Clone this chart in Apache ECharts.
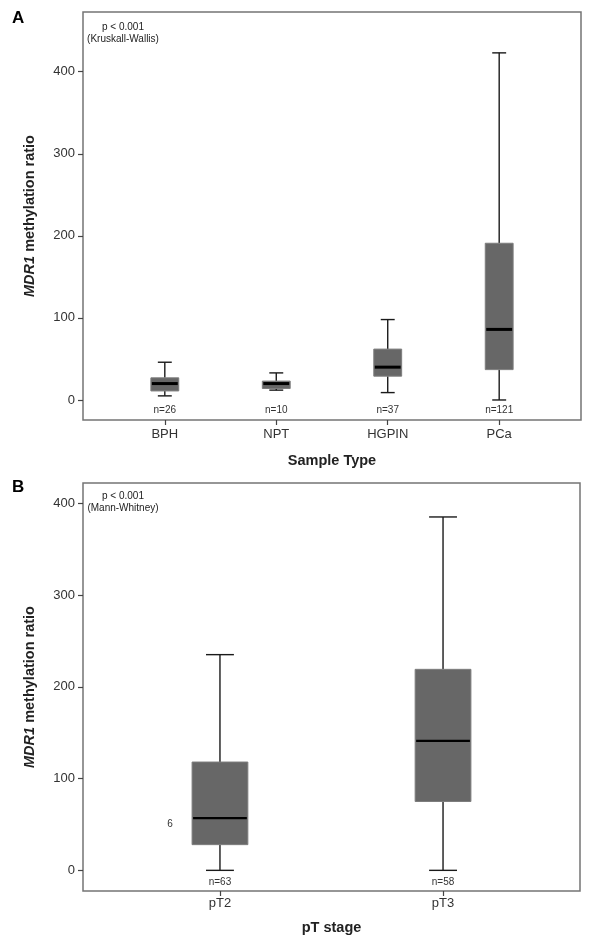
<!DOCTYPE html>
<html>
<head>
<meta charset="utf-8">
<script src="https://cdn.jsdelivr.net/npm/echarts@6.0.0/dist/echarts.min.js"></script>
<style>
  html, body { margin: 0; padding: 0; background: #fff; }
  #box_chart { width: 600px; height: 951px; }
</style>
</head>
<body>
<div id="box_chart"></div>
<script>
// panel A - sample type
let categories_a = ['BPH', 'NPT', 'HGPIN', 'PCa']
let n_a = [26, 10, 37, 121]
let min_a = [5, 12, 9, 0]
let q1_a = [11, 14, 29, 37]
let median_a = [20, 20, 40, 86]
let q3_a = [27, 23, 62, 191]
let max_a = [46, 33, 98, 423]

// panel B - pT stage
let categories_b = ['pT2', 'pT3']
let n_b = [63, 58]
let min_b = [0, 0]
let q1_b = [28, 75]
let median_b = [57, 141]
let q3_b = [118, 219]
let max_b = [235, 385]
let outlier_b = [[1, 50, '6']]  // case number printed next to pT2

let y_ticks = [0, 100, 200, 300, 400]

let font = 'Liberation Sans, Arial, sans-serif'
let box_width = 0.25  // in axis units

function build_rows(mins, q1s, medians, q3s, maxs, counts) {
    return mins.map((v, i) => [i + 1, v, q1s[i], medians[i], q3s[i], maxs[i], counts[i]])
}

function make_box_render(median_width, n_offset) {
    return function (params, api) {
        let x = api.value(0)
        let lo = api.coord([x, api.value(1)])
        let q1 = api.coord([x, api.value(2)])
        let md = api.coord([x, api.value(3)])
        let q3 = api.coord([x, api.value(4)])
        let hi = api.coord([x, api.value(5)])
        let bw = api.size([box_width, 0])[0]
        let cw = bw / 2
        let cx = lo[0]
        let bottom = params.coordSys.y + params.coordSys.height
        let line_style = { stroke: '#1a1a1a', lineWidth: 1.4 }
        return {
            type: 'group',
            children: [
                { type: 'line', shape: { x1: cx, y1: q3[1], x2: cx, y2: hi[1] }, style: line_style },
                { type: 'line', shape: { x1: cx, y1: q1[1], x2: cx, y2: lo[1] }, style: line_style },
                { type: 'line', shape: { x1: cx - cw / 2, y1: hi[1], x2: cx + cw / 2, y2: hi[1] }, style: line_style },
                { type: 'line', shape: { x1: cx - cw / 2, y1: lo[1], x2: cx + cw / 2, y2: lo[1] }, style: line_style },
                {
                    type: 'rect',
                    shape: { x: cx - bw / 2, y: q3[1], width: bw, height: q1[1] - q3[1] },
                    style: { fill: '#676767', stroke: '#7d7d7d', lineWidth: 1 }
                },
                {
                    type: 'line',
                    shape: { x1: cx - bw / 2 + 1, y1: md[1], x2: cx + bw / 2 - 1, y2: md[1] },
                    style: { stroke: '#000', lineWidth: median_width }
                },
                {
                    type: 'text', x: cx, y: bottom - n_offset,
                    style: {
                        text: 'n=' + api.value(6), font: '10px ' + font, fill: '#333',
                        align: 'center', verticalAlign: 'middle'
                    }
                }
            ]
        }
    }
}

function render_outlier(params, api) {
    let p = api.coord([api.value(0), api.value(1)])
    return {
        type: 'text', x: p[0] - 50, y: p[1],
        style: {
            text: outlier_b[params.dataIndex][2], font: '10px ' + font, fill: '#333',
            align: 'center', verticalAlign: 'middle'
        }
    }
}

function x_axis(grid_index, cats, min, max, label_margin, name, name_gap) {
    let ticks = cats.map((c, i) => i + 1)
    return {
        type: 'value', gridIndex: grid_index, min: min, max: max,
        name: name, nameLocation: 'middle', nameGap: name_gap,
        nameTextStyle: { fontFamily: font, fontSize: 14.5, fontWeight: 'bold', color: '#222' },
        axisLine: { show: false, onZero: false },
        splitLine: { show: false },
        axisTick: { show: true, inside: false, length: 5, customValues: ticks, lineStyle: { color: '#444', width: 1.2 } },
        axisLabel: {
            customValues: ticks, margin: label_margin,
            fontFamily: font, fontSize: 13, color: '#333',
            formatter: v => cats[Math.round(v) - 1]
        }
    }
}

function y_axis(grid_index, min, max) {
    return {
        type: 'value', gridIndex: grid_index, min: min, max: max,
        name: '{i|MDR1} methylation ratio', nameLocation: 'middle', nameGap: 46,
        nameTextStyle: {
            fontFamily: font, fontSize: 14.5, fontWeight: 'bold', color: '#222',
            rich: { i: { fontFamily: font, fontSize: 14.5, fontWeight: 'bold', fontStyle: 'italic', color: '#222' } }
        },
        axisLine: { show: false, onZero: false },
        splitLine: { show: false },
        axisTick: { show: true, length: 5, customValues: y_ticks, lineStyle: { color: '#444', width: 1.2 } },
        axisLabel: { customValues: y_ticks, margin: 8, fontFamily: font, fontSize: 13, color: '#333' }
    }
}

let grid_style = { show: true, borderColor: '#747474', borderWidth: 1.5, backgroundColor: '#fff' }

let option = {
    animation: false,
    backgroundColor: '#fff',
    grid: [
        Object.assign({ left: 83, top: 12, width: 498, height: 408 }, grid_style),
        Object.assign({ left: 83, top: 483, width: 497, height: 408 }, grid_style)
    ],
    xAxis: [
        x_axis(0, categories_a, 0.266, 4.734, 8, 'Sample Type', 33),
        x_axis(1, categories_b, 0.386, 2.614, 6, 'pT stage', 29)
    ],
    yAxis: [y_axis(0, -24.4, 472.8), y_axis(1, -22.5, 422)],
    graphic: [
        { type: 'text', left: 12, top: 10, style: { text: 'A', font: 'bold 17px ' + font, fill: '#000' } },
        { type: 'text', left: 12, top: 479, style: { text: 'B', font: 'bold 17px ' + font, fill: '#000' } },
        {
            type: 'text', x: 123, y: 33, style: {
                text: 'p < 0.001\n(Kruskall-Wallis)', font: '10px ' + font, fill: '#222',
                align: 'center', verticalAlign: 'middle', lineHeight: 12
            }
        },
        {
            type: 'text', x: 123, y: 502, style: {
                text: 'p < 0.001\n(Mann-Whitney)', font: '10px ' + font, fill: '#222',
                align: 'center', verticalAlign: 'middle', lineHeight: 12
            }
        }
    ],
    series: [
        {
            type: 'custom', name: 'sample_type', xAxisIndex: 0, yAxisIndex: 0,
            renderItem: make_box_render(3, 9.5),
            encode: { x: 0, y: [1, 2, 3, 4, 5] },
            data: build_rows(min_a, q1_a, median_a, q3_a, max_a, n_a)
        },
        {
            type: 'custom', name: 'pt_stage', xAxisIndex: 1, yAxisIndex: 1,
            renderItem: make_box_render(2.2, 8.5),
            encode: { x: 0, y: [1, 2, 3, 4, 5] },
            data: build_rows(min_b, q1_b, median_b, q3_b, max_b, n_b)
        },
        {
            type: 'custom', name: 'outlier_label', xAxisIndex: 1, yAxisIndex: 1,
            renderItem: render_outlier,
            encode: { x: 0, y: 1 },
            data: outlier_b.map(r => [r[0], r[1]])
        }
    ]
}

let chart = echarts.init(document.getElementById('box_chart'))
chart.setOption(option)
</script>
</body>
</html>
